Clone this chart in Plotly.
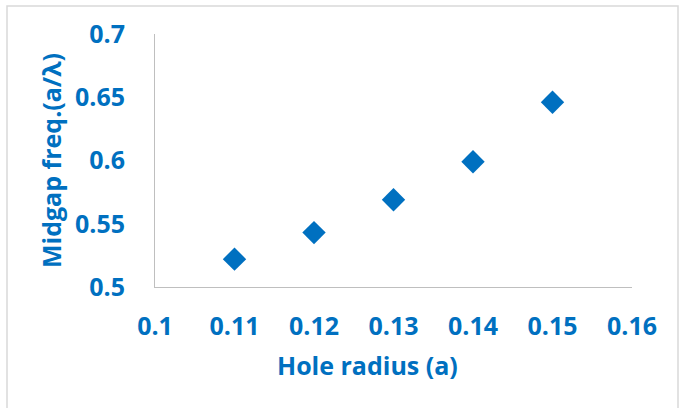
import plotly.graph_objects as go

hole_radius = [0.11, 0.12, 0.13, 0.14, 0.15]
midgap_freq = [0.522, 0.543, 0.569, 0.599, 0.646]

blue = "#0070C0"
W, H = 679, 408
L, R, T, B = 155, 47, 34, 121
pw, ph = W - L - R, H - T - B

fig = go.Figure()
fig.add_trace(go.Scatter(
    x=hole_radius, y=midgap_freq, mode="markers",
    marker=dict(symbol="diamond", size=18, color=blue),
    showlegend=False, hoverinfo="x+y"))

font = dict(family="Open Sans", size=25, color=blue)
fig.update_layout(
    width=W, height=H, autosize=False,
    margin=dict(l=L, r=R, t=T, b=B),
    paper_bgcolor="white", plot_bgcolor="white",
    font=font,
    xaxis=dict(range=[0.1, 0.16], tickvals=[0.1, 0.11, 0.12, 0.13, 0.14, 0.15, 0.16],
               ticktext=["<b>0.1</b>", "<b>0.11</b>", "<b>0.12</b>", "<b>0.13</b>", "<b>0.14</b>", "<b>0.15</b>", "<b>0.16</b>"],
               showgrid=False, zeroline=False, showline=True, linecolor="#BFBFBF", linewidth=1,
               ticks="", ticklabelstandoff=17, tickfont=font),
    yaxis=dict(range=[0.5, 0.7], tickvals=[0.5, 0.55, 0.6, 0.65, 0.7],
               ticktext=["<b>0.5</b>", "<b>0.55</b>", "<b>0.6</b>", "<b>0.65</b>", "<b>0.7</b>"],
               showgrid=False, zeroline=False, showline=True, linecolor="#BFBFBF", linewidth=1,
               ticks="", ticklabelstandoff=24, tickfont=font,
               title=dict(text="<b>Midgap freq.(a/λ)</b>", font=font, standoff=6)),
)
# x axis title, placed where the reference has it (left of plot centre)
fig.add_annotation(text="<b>Hole radius (a)</b>", xref="paper", yref="paper",
                   x=(367 - L) / pw, y=(H - B - 365) / ph, xanchor="center", yanchor="middle",
                   showarrow=False, font=font)
# outer chart border
x0 = (7 - L) / pw
x1 = (678 - L) / pw
y1 = (H - B - 6) / ph
y0 = (H - B - 420) / ph
fig.add_shape(type="rect", xref="paper", yref="paper", x0=x0, x1=x1, y0=y0, y1=y1,
              line=dict(color="#D9D9D9", width=1.5), layer="below")

fig.write_html("out.html", config={"displayModeBar": False},
               post_script="document.body.style.margin='0';document.body.style.overflow='hidden';")
